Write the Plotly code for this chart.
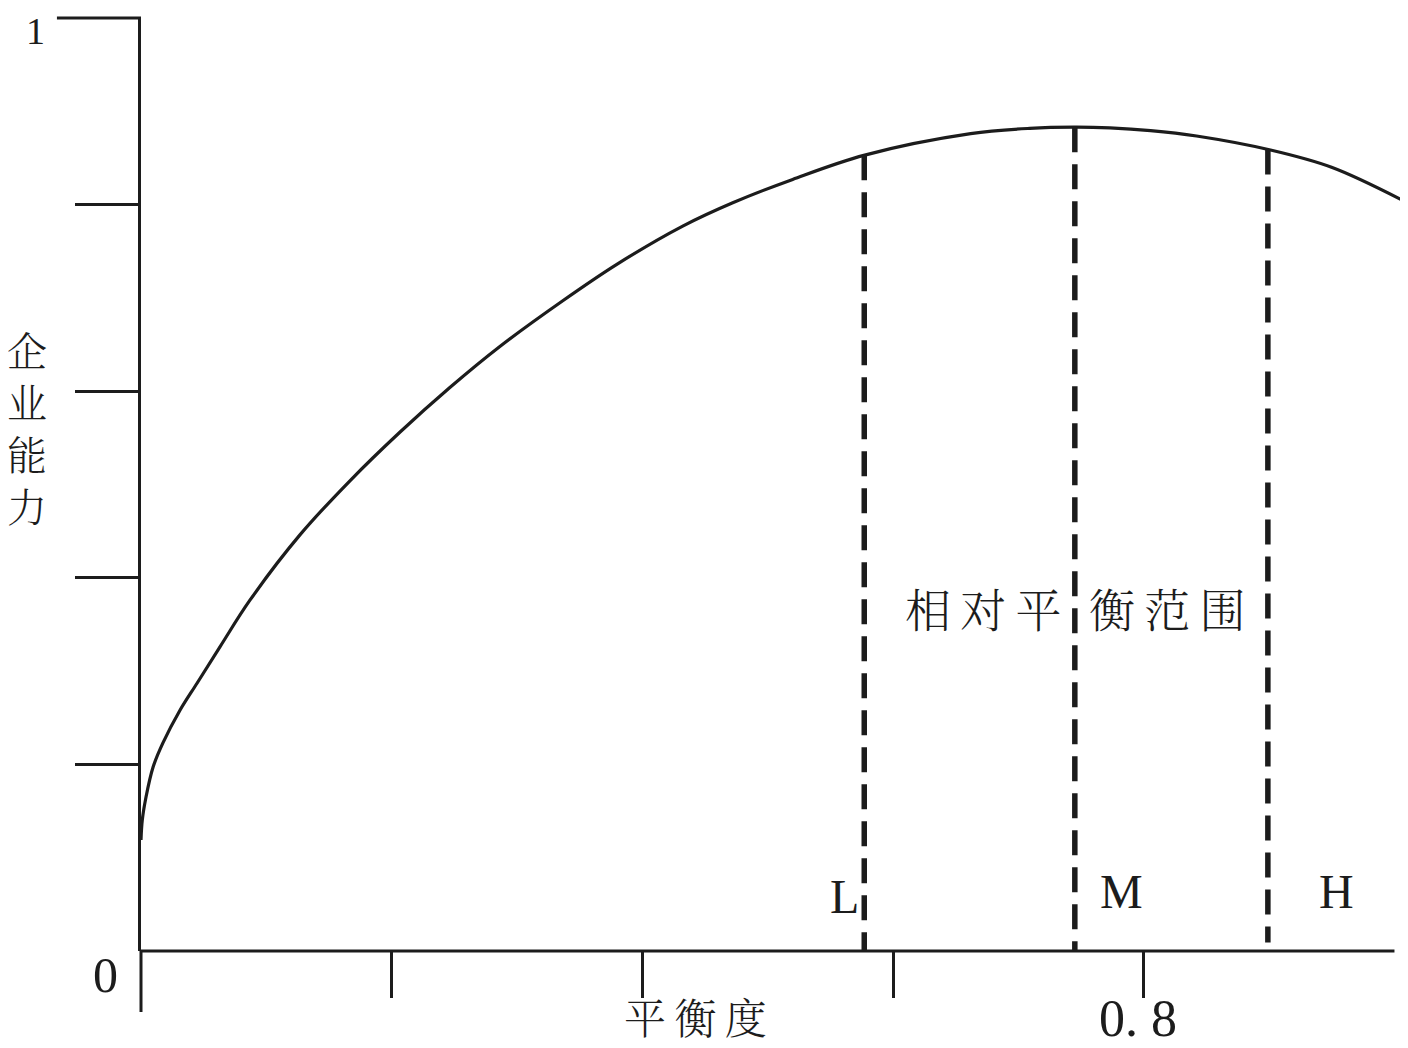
import plotly.graph_objects as go

# ---- data ----
curve_x = [0.0, 0.001, 0.004, 0.0096, 0.0175, 0.0311, 0.0447, 0.0630, 0.0869,
           0.1268, 0.1667, 0.2065, 0.2464, 0.2863, 0.3365, 0.3796, 0.4322,
           0.4721, 0.5199, 0.5774, 0.6619, 0.7090, 0.7448, 0.7730, 0.8054,
           0.8421, 0.9011, 0.9498, 1.0088]
curve_y = [0.119, 0.140, 0.165, 0.197, 0.223, 0.258, 0.287, 0.326, 0.376,
           0.446, 0.504, 0.556, 0.604, 0.648, 0.697, 0.736, 0.777,
           0.802, 0.827, 0.853, 0.876, 0.8817, 0.883, 0.8822, 0.8793,
           0.8735, 0.8585, 0.840, 0.803]

boundary_names = ["L", "M", "H"]
boundary_x = [0.577, 0.745, 0.899]
boundary_top = [0.853, 0.883, 0.859]
boundary_bottom = [0.0, 0.0, 0.009]

x_ticks = [0.2, 0.4, 0.6, 0.8]
y_ticks = [0.2, 0.4, 0.6, 0.8]

x_title = "平衡度"
y_title = "企业能力"
range_text = ["相对平", "衡范围"]

INK = "#1c1c1c"
LATIN = "Liberation Serif, Times New Roman, serif"
CJK = "Noto Serif CJK SC, Noto Sans CJK SC, sans-serif"

fig = go.Figure()

fig.add_trace(go.Scatter(x=curve_x, y=curve_y, mode="lines",
                         line=dict(color=INK, width=3.2, shape="spline", smoothing=1.0),
                         hoverinfo="skip", showlegend=False))

for bx, bt, bb in zip(boundary_x, boundary_top, boundary_bottom):
    fig.add_trace(go.Scatter(x=[bx, bx], y=[bt, bb], mode="lines",
                             line=dict(color=INK, width=5.5, dash="25px,12px"),
                             hoverinfo="skip", showlegend=False))


def ann(text, x, y, xref, yref, family, size, weight=None, pad=1):
    f = dict(family=family, size=size, color=INK)
    if weight is not None:
        f["weight"] = weight
    fig.add_annotation(x=x, y=y, xref=xref, yref=yref, text=text, showarrow=False,
                       xanchor="center", yanchor="middle", borderpad=pad, font=f)


# boundary labels
label_dx = [-0.016, 0.037, 0.055]
for name, bx, dx, yy in zip(boundary_names, boundary_x, label_dx, [0.058, 0.064, 0.064]):
    ann(name, bx + dx, yy, "x", "y", LATIN, 48)

# range text
ann("\u2009".join(range_text[0]), 0.6715, 0.369, "x", "y", CJK, 46, 300)
ann("\u2009".join(range_text[1]), 0.8186, 0.369, "x", "y", CJK, 46, 300)

# axis titles
ann("\u2009".join(x_title), 0.442, -0.0697, "x", "paper", CJK, 42, 300)
ann("<br>".join(y_title), -0.0900, 0.562, "paper", "paper", CJK, 40, 300)

# tick labels
ann("0. 8", 0.7954, -0.072, "x", "paper", LATIN, 52)
ann("0", -0.0284, -0.0257, "paper", "paper", LATIN, 50)
ann("1", -0.0837, 0.986, "paper", "paper", LATIN, 38, pad=0)

# axis extras: x axis line (0..1), long top tick on y, y-axis extension below origin
fig.add_shape(type="line", xref="x", yref="paper", x0=0, x1=1.0, y0=0, y1=0,
              line=dict(color=INK, width=3))
fig.add_shape(type="line", xref="paper", yref="paper", x0=-0.0664, x1=0, y0=1, y1=1,
              line=dict(color=INK, width=3))
fig.add_shape(type="line", xref="paper", yref="paper", x0=0, x1=0, y0=0, y1=-0.0654,
              line=dict(color=INK, width=3))

fig.update_layout(
    width=1400, height=1040,
    margin=dict(l=133, r=1, t=10, b=97),
    paper_bgcolor="white", plot_bgcolor="white",
    showlegend=False,
    xaxis=dict(range=[0, 1.01], showgrid=False, zeroline=False, showline=False,
               tickmode="array", tickvals=x_ticks, showticklabels=False,
               ticks="outside", ticklen=46, tickwidth=3, tickcolor=INK, fixedrange=True),
    yaxis=dict(range=[0, 1], showgrid=False, zeroline=False, showline=True,
               linecolor=INK, linewidth=3,
               tickmode="array", tickvals=y_ticks, showticklabels=False,
               ticks="outside", ticklen=63, tickwidth=3, tickcolor=INK, fixedrange=True),
)

fig.write_html("out.html")
